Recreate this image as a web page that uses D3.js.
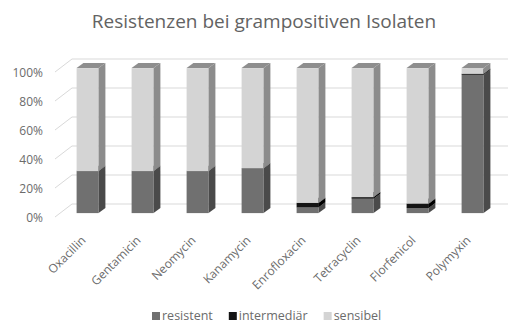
<!DOCTYPE html>
<html lang="de">
<head>
<meta charset="utf-8">
<style>
  body { margin: 0; background: #fff; }
  svg { display: block; font-family: "Open Sans", sans-serif; }
</style>
</head>
<body>
<div id="chart"></div>
<script src="https://d3js.org/d3.v7.min.js"></script>
<script>
// data (percent of isolates)
var categories = ["Oxacillin", "Gentamicin", "Neomycin", "Kanamycin", "Enrofloxacin", "Tetracyclin", "Florfenicol", "Polymyxin"];
var resistent    = [29, 29, 29, 31, 4, 10, 3.5, 95.5];
var intermediaer = [0, 0, 0, 0, 3, 1, 3, 0.5];
var sensibel     = [71, 71, 71, 69, 93, 89, 93.5, 4];
var yTicks = [0, 20, 40, 60, 80, 100];

var seriesNames = ["resistent", "intermediär", "sensibel"];
var seriesData = [resistent, intermediaer, sensibel];
// front, side, top colours per series
var colours = [
  {front: "#707070", side: "#4a4a4a", top: "#5c5c5c"},
  {front: "#141414", side: "#000000", top: "#2a2a2a"},
  {front: "#d4d4d4", side: "#8c8c8c", top: "#8e8e8e"}
];

var width = 508, height = 325;
var depthX = 17, depthY = -13;   // oblique depth vector of the plot box
var t0 = 0.3, t1 = 0.7;          // bars sit in this slice of the depth

var svg = d3.select("#chart").append("svg")
  .attr("width", width).attr("height", height);

var x = d3.scaleBand().domain(categories).range([55, 495])
  .paddingInner(0.6).paddingOuter(0.3);
var y = d3.scaleLinear().domain([0, 100]).range([217, 72]);

// title
svg.append("text")
  .attr("x", 264).attr("y", 28)
  .attr("text-anchor", "middle")
  .attr("font-size", 19)
  .attr("fill", "#636363")
  .text("Resistenzen bei grampositiven Isolaten");

// gridlines: side wall diagonal + back wall line
var grid = svg.append("g");
yTicks.forEach(function (v) {
  grid.append("polyline")
    .attr("points", [[55, y(v)], [55 + depthX, y(v) + depthY], [508, y(v) + depthY]].join(" "))
    .attr("fill", "none")
    .attr("stroke", "#d9d9d9")
    .attr("stroke-width", 1);
  grid.append("text")
    .attr("x", 43).attr("y", y(v) + 4.5)
    .attr("text-anchor", "end")
    .attr("font-size", 12)
    .attr("fill", "#6b6b6b")
    .text(v + "%");
});

// stacked 3D bars
var bars = svg.append("g");
categories.forEach(function (c, i) {
  var x0 = x(c), w = x.bandwidth();
  var base = 0;
  seriesData.forEach(function (s, k) {
    var v = s[i];
    if (v <= 0) return;
    var lo = base, hi = base + v;
    base = hi;
    var fx = x0 + depthX * t0, fdy = depthY * t0;
    var ddx = depthX * (t1 - t0), ddy = depthY * (t1 - t0);
    var yl = y(lo) + fdy, yh = y(hi) + fdy;
    var col = colours[k];
    // front
    bars.append("rect")
      .attr("x", fx).attr("y", yh)
      .attr("width", w).attr("height", yl - yh)
      .attr("fill", col.front);
    // side
    bars.append("polygon")
      .attr("points", [[fx + w, yl], [fx + w + ddx, yl + ddy], [fx + w + ddx, yh + ddy], [fx + w, yh]].join(" "))
      .attr("fill", col.side);
    // top
    bars.append("polygon")
      .attr("points", [[fx, yh], [fx + w, yh], [fx + w + ddx, yh + ddy], [fx + ddx, yh + ddy]].join(" "))
      .attr("fill", col.top);
  });
});

// category labels
svg.append("g").selectAll("text")
  .data(categories)
  .join("text")
  .attr("transform", function (d) {
    return "translate(" + (x(d) + x.bandwidth() / 2 + 4) + ",241) rotate(-45)";
  })
  .attr("text-anchor", "end")
  .attr("font-size", 12)
  .attr("fill", "#6b6b6b")
  .text(function (d) { return d; });

// legend
var legend = svg.append("g").attr("transform", "translate(152,320)");
var lx = 0;
seriesNames.forEach(function (n, k) {
  var g = legend.append("g").attr("transform", "translate(" + lx + ",0)");
  g.append("rect").attr("x", 0).attr("y", -8).attr("width", 8).attr("height", 8)
    .attr("fill", colours[k].front);
  var t = g.append("text").attr("x", 10).attr("y", 0)
    .attr("font-size", 12.5).attr("fill", "#6b6b6b").text(n);
  lx += 10 + t.node().getComputedTextLength() + 16;
});
</script>
</body>
</html>
